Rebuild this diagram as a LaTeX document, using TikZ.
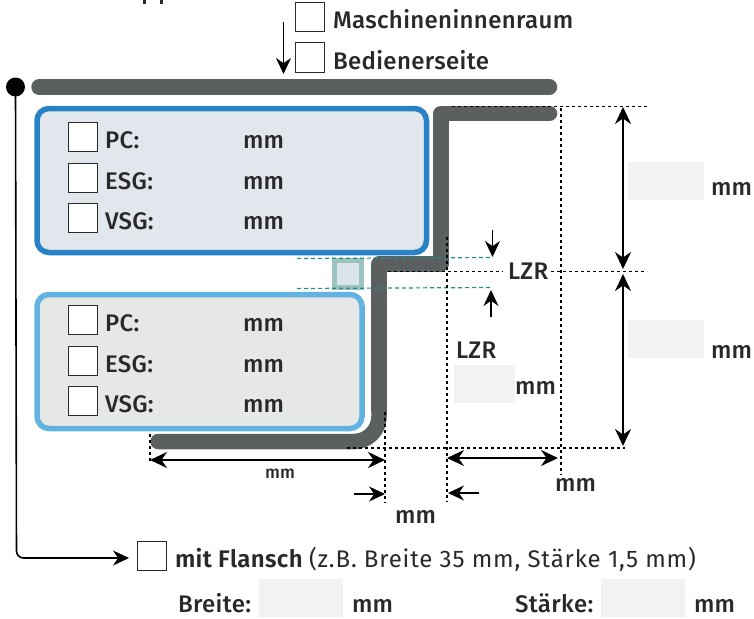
\documentclass[tikz,border=0pt]{standalone}
\usepackage{fontspec}
\setmainfont[LetterSpace=1.5]{Fira Sans Medium}
\newfontfamily\regf[LetterSpace=3.5]{Fira Sans}
\newfontfamily\semif[LetterSpace=1.5]{Fira Sans SemiBold}
\usetikzlibrary{arrows.meta}
\definecolor{prof}{HTML}{5C5F60}
\definecolor{txt}{HTML}{2A2829}
\definecolor{tealc}{HTML}{1F8F8A}
\definecolor{fieldc}{HTML}{F1F2F4}
\definecolor{blueA}{RGB}{42,130,198}
\definecolor{blueB}{RGB}{99,179,224}
\definecolor{fillA}{RGB}{225,231,237}
\definecolor{fillB}{RGB}{230,232,232}
\definecolor{sqD}{RGB}{157,195,191}
\definecolor{sqF}{RGB}{217,229,234}
\tikzset{
  x=1pt,y=-1pt,
  profile/.style={draw=prof,line width=15.5pt,line cap=round,line join=round},
  chk/.style={draw=txt,fill=white,line width=1pt,minimum size=29pt,inner sep=0pt,outer sep=0pt},
  lab/.style={inner sep=0pt,outer sep=0pt,anchor=base west,text=txt,font=\fontsize{24}{26}\selectfont},
  small/.style={lab,font=\fontsize{17.5}{18}\selectfont},
  field/.style={fill=fieldc,draw=none,inner sep=0pt,outer sep=0pt},
  dots/.style={draw=black,line width=1.5pt,dash pattern=on 3pt off 3pt},
  tealline/.style={draw=tealc,line width=1.2pt,dash pattern=on 4pt off 3pt},
  dim/.style={draw=black,line width=1.8pt,{Stealth[length=17pt,width=16pt]}-{Stealth[length=17pt,width=16pt]}},
  one/.style={draw=black,line width=1.6pt,-{Stealth[length=16pt,width=15pt]}},
  roundbox/.style={line width=5.5pt,rounded corners=12pt},
}
\begin{document}
\begin{tikzpicture}
\useasboundingbox (0,0) rectangle (754,618);
% clipped text fragments at the top edge
\fill[txt] (143,0) rectangle (146,4);
\fill[txt] (160,0) rectangle (163,4);
% boxes
\draw[roundbox,draw=blueA,fill=fillA] (37,108.5) rectangle (426.5,252.5);
\draw[roundbox,draw=blueB,fill=fillB] (37,294.5) rectangle (362,428.5);
% profiles
\draw[profile] (39,87) -- (549.5,87);
\draw[profile] (549.5,113.5) -- (441,113.5) -- (441,264) -- (379,264) -- (379,410);
\draw[profile,rounded corners=25pt] (379,405) -- (379,441.5) -- (158,441.5);
% small square
\draw[draw=sqD,fill=sqF,line width=5pt] (334.5,260.5) rectangle (361.5,287.5);
% teal
\coordinate (t1a) at (297,258.5);\coordinate (t1b) at (493,257.5);
\coordinate (t2a) at (297,288.5);\coordinate (t2b) at (493,287.5);
\draw[tealline] (t1a) -- (t1b);
\draw[tealline] (t2a) -- (t2b);
% dotted
\draw[dots] (452,106.5) -- (649,106.5);
\draw[dots] (561,108) -- (561,475);
\draw[dots] (447,237) -- (447,502);
\draw[dots] (388,271.5) -- (503,271.5);
\draw[dots] (551,271.5) -- (647,271.5);
\draw[dots] (347,448) -- (625,448);
\draw[dots] (385,412) -- (385,503);
\draw[dots] (150,434) -- (150,464);
% dimension arrows
\coordinate (h1) at (623,107);\coordinate (h2) at (623,269);
\coordinate (h3) at (623,274);\coordinate (h4) at (623,446);
\draw[dim] (h1) -- (h2);
\draw[dim] (h3) -- (h4);
\coordinate (w1) at (150,460);\coordinate (w2) at (385,460);
\draw[dim] (w1) -- (w2);
\coordinate (w3) at (447,458);\coordinate (w4) at (558,458);
\draw[dim] (w3) -- (w4);
\coordinate (a1) at (354,494);\coordinate (a2) at (385,494);
\draw[one] (a1) -- (a2);
\coordinate (a3) at (479,493);\coordinate (a4) at (448,493);
\draw[one] (a3) -- (a4);
\coordinate (a5) at (492.5,230);\coordinate (a6) at (492.5,257);
\draw[one] (a5) -- (a6);
\coordinate (a7) at (491,317);\coordinate (a8) at (491,290);
\draw[one] (a7) -- (a8);
\coordinate (a9) at (283.5,22);\coordinate (a10) at (283.5,74);
\draw[one] (a9) -- (a10);
% left connector
\node[circle,fill=black,minimum size=19pt,inner sep=0pt] (dot) at (15.5,87) {};
\node[chk] (cf) at (151.5,555.5) {};
\coordinate (cfin) at (129,558);
\coordinate (turn) at (16.5,558);
\draw[one,rounded corners=7pt] (dot.center) -- (turn) -- (cfin);
% checkboxes
\node[chk] (c1) at (310,17.5) {};
\node[chk] (c2) at (310,57.5) {};
\node[chk] (p1) at (83,136.5) {};
\node[chk] (p2) at (83,177.5) {};
\node[chk] (p3) at (83,217.5) {};
\node[chk] (q1) at (83,319.5) {};
\node[chk] (q2) at (83,360.5) {};
\node[chk] (q3) at (83,400.5) {};
% fields
\node[field,minimum width=76pt,minimum height=38pt] (f1) at (666,181) {};
\node[field,minimum width=76pt,minimum height=38pt] (f2) at (666,339) {};
\node[field,minimum width=61pt,minimum height=38pt] (f3) at (484.5,384) {};
\node[field,minimum width=84pt,minimum height=38pt] (f4) at (301,598) {};
\node[field,minimum width=84pt,minimum height=38pt] (f5) at (643,598) {};
% labels
\node[lab] (l1) at (333,29) {Maschineninnenraum};
\node[lab] (l2) at (333,69) {Bedienerseite};
\foreach \y/\t/\n in {148/PC:/a,189/ESG:/b,229/VSG:/c,331/PC:/d,372/ESG:/e,412/VSG:/f}{
  \node[lab] (t\n) at (105,\y) {\t};
  \node[lab] (m\n) at (243,\y) {mm};
}
\node[lab] (lz1) at (508,279) {LZR};
\node[lab] (lz2) at (456,358) {LZR};
\node[lab] (m1) at (711,195) {mm};
\node[lab] (m2) at (711,358) {mm};
\node[lab] (m3) at (515,394) {mm};
\node[lab] (m4) at (555,491) {mm};
\node[lab] (m5) at (395,523) {mm};
\node[small] (m6) at (265,478) {mm};
\node[lab,anchor=base west] (fl) at (175,567) {{\semif mit Flansch} {\regf\fontsize{24}{26}\selectfont (z.B. Breite 35 mm, Stärke 1,5 mm)}};
\node[lab] (br) at (178,612) {Breite:};
\node[lab] (m7) at (352,612) {mm};
\node[lab] (st) at (515,612) {Stärke:};
\node[lab] (m8) at (694,612) {mm};
\end{tikzpicture}
\end{document}
